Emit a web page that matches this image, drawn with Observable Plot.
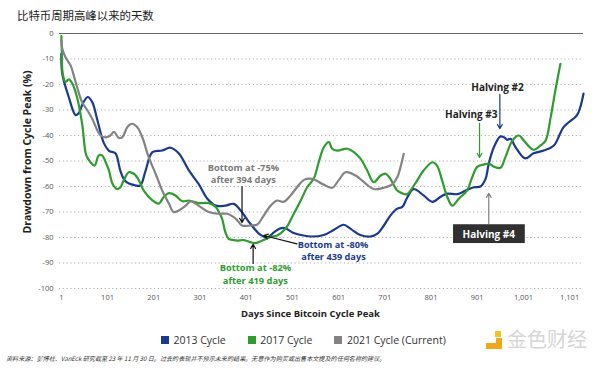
<!DOCTYPE html>
<html><head><meta charset="utf-8">
<script src="https://cdn.jsdelivr.net/npm/d3@7"></script>
<script src="https://cdn.jsdelivr.net/npm/@observablehq/plot@0.6"></script>
<style>
body{margin:0;background:#fff;}
#wrap{position:relative;width:600px;height:372px;overflow:hidden;font-family:"Open Sans",sans-serif;}
#title{position:absolute;left:17px;top:6px;font-family:"Noto Sans CJK SC",sans-serif;font-size:11.4px;line-height:18px;color:#222;white-space:nowrap;}
#chart{position:absolute;left:0;top:24px;}
#legend{position:absolute;left:161px;top:331.5px;display:flex;align-items:center;font-size:10.5px;line-height:16px;color:#333;white-space:nowrap;}
.item{display:flex;align-items:center;margin-right:22px;}
.sw{width:8px;height:8px;margin-right:4.5px;}
#caption{position:absolute;left:6px;top:354px;font-family:"Noto Sans CJK SC",sans-serif;font-style:italic;font-size:6.1px;line-height:9px;color:#333;white-space:nowrap;}
#wm{position:absolute;left:486px;top:329px;width:110px;height:24px;}
#wm .a{position:absolute;left:9px;top:2px;width:6px;height:6px;background:#f6c21c;}
#wm .b{position:absolute;left:10px;top:9px;width:6px;height:11px;background:#f0a81a;}
#wm .c{position:absolute;left:0px;top:14px;width:16px;height:6px;background:#f0a81a;}
#wm .t{position:absolute;left:21px;top:-2px;font-family:"Noto Sans CJK SC",sans-serif;font-size:20px;line-height:24px;color:#d6d6d6;}
</style></head>
<body>
<div id="wrap">
  <div id="title">比特币周期高峰以来的天数</div>
  <div id="chart"></div>
  <div id="legend"></div>
  <div id="caption">资料来源：彭博社、VanEck 研究截至 23 年 11 月 30 日。过去的表现并不预示未来的结果。无意作为购买或出售本文提及的任何名称的建议。</div>
  <div id="wm"><div class="a"></div><div class="b"></div><div class="c"></div><div class="t">金色财经</div></div>
</div>
<script>
const seriesNames = ["2013 Cycle", "2017 Cycle", "2021 Cycle (Current)"];
const seriesColors = ["#1b3a8c", "#2e9c2e", "#838383"];

const xTicks = [1, 101, 201, 301, 401, 501, 601, 701, 801, 901, 1001, 1101];
const yTicks = [0, -10, -20, -30, -40, -50, -60, -70, -80, -90, -100];
const gridValues = [-10, -20, -30, -40, -50, -60, -70, -80, -90, -100];

const days2013 = [1,3,17,32,39,46,58,68,79,93,104,118,129,140,162,172,183,198,219,237,255,277,298,317,335,356,374,389,410,432,447,461,475,486,501,519,540,569,591,612,627,648,670,685,699,713,728,739,749,763,785,804,822,836,858,876,894,908,919,926,937,951,959,966,973,984,1005,1023,1045,1067,1088,1117,1124,1131];
const values2013 = [-8,-15.8,-24.9,-32,-31.2,-28,-24.9,-27,-34,-43,-46,-47,-54,-58,-59.6,-59.6,-54,-46.5,-45.9,-44.8,-47,-53.7,-59,-64.8,-67.5,-67.5,-66.8,-69.4,-74.6,-79,-79.9,-78,-76.4,-76.4,-78,-79,-79.6,-79,-77,-75,-76.6,-79,-79.6,-78.5,-75.3,-71.4,-68.7,-68,-64.5,-61,-63.5,-66,-64,-62.8,-63,-61.6,-60.3,-60,-57,-51,-44.6,-40.4,-40.7,-41.7,-41.3,-44.6,-49,-47,-45.9,-43.9,-36.7,-32,-28.9,-23.6];

const days2017 = [1,2,4,10,17,25,35,46,55,64,73,82,89,97,104,112,122,129,136,147,158,169,179,198,212,223,234,248,263,277,298,320,335,342,349,356,363,374,382,396,410,421,436,454,468,486,504,519,533,547,558,569,580,587,598,620,634,648,663,677,692,703,713,728,739,749,767,785,804,814,825,836,847,861,879,890,901,915,926,937,951,962,977,991,1002,1023,1038,1049,1060,1070,1081];
const values2017 = [-1,-6.7,-15.8,-19,-18,-19.7,-25,-35.4,-47.8,-50.5,-51.8,-47.8,-47.8,-50.5,-53.7,-59,-61,-60.3,-57.6,-54.4,-55,-57.6,-61.5,-65.4,-66.7,-64,-62.6,-63.5,-65.8,-65.5,-66.5,-66.5,-68,-70,-72.7,-78,-80.5,-81,-81.2,-81,-81.8,-82.2,-81.2,-79.8,-79.2,-76.6,-70.7,-65.5,-60.3,-57,-50.5,-44.6,-42.6,-45.2,-45.9,-45.2,-46.5,-49,-53.7,-58.3,-55.7,-55,-57,-61.6,-62.7,-63,-58.8,-53.7,-50.5,-51.8,-57.6,-64,-67.5,-64.8,-61.6,-56.4,-52.3,-51.4,-51,-52.2,-52.7,-48.5,-42,-40,-42,-45.6,-43.9,-42,-32.8,-22.4,-11.9];

const days2021 = [1,3,10,21,28,35,46,57,68,79,86,97,107,115,125,133,144,154,165,176,190,205,219,234,244,255,270,281,298,320,342,360,374,382,392,410,425,439,454,468,482,497,511,526,544,566,587,601,616,638,656,677,699,717,728,735,742];
const values2021 = [-2.7,-6,-9.3,-12.5,-16.5,-21,-27,-30,-33.5,-38,-40,-40.7,-40,-38.6,-40.9,-40.6,-36.7,-35.4,-36.7,-40.6,-48.5,-55,-61.5,-66.8,-70,-69.4,-67.5,-65.8,-67.5,-70,-70.7,-70.7,-72,-73.3,-75.3,-75.3,-74.9,-71.4,-67.5,-65.5,-66,-63.5,-60.3,-57.4,-57,-59,-60.5,-57.6,-54.4,-55.7,-58.3,-61,-60.5,-59.2,-56.4,-52.4,-47.2];

const xTitle = "Days Since Bitcoin Cycle Peak";
const yTitle = "Drawdown from Cycle Peak (%)";

const labelTexts = ["Bottom at -75%", "after 394 days", "Bottom at -80%", "after 439 days", "Bottom at -82%", "after 419 days", "Halving #2", "Halving #3", "Halving #4"];
const labelDays = [395, 395, 589, 590, 421, 421, 945, 888, 926];
const labelValues = [-52.8, -57.5, -82.8, -87.6, -92.1, -96.9, -21.2, -32, -78.8];
const labelColors = ["#7a7a7a", "#7a7a7a", "#1b3a8c", "#1b3a8c", "#2e9c2e", "#2e9c2e", "#222", "#222", "#ffffff"];
const labelSizes = [9.3, 9.3, 9.2, 9.2, 9.3, 9.3, 10, 10, 10];

const arrowDay1 = [392, 511, 416, 950, 906, 926];
const arrowVal1 = [-60, -82.5, -90.2, -23.9, -35.2, -74.5];
const arrowDay2 = [392, 439, 416, 950, 906, 926];
const arrowVal2 = [-74.1, -79.2, -82.7, -37.3, -48.6, -62.7];
const arrowColors = ["#111", "#111", "#111", "#1b3a8c", "#2e9c2e", "#808080"];

const data = [
  ...days2013.map((d, i) => ({series: seriesNames[0], day: d, value: values2013[i]})),
  ...days2017.map((d, i) => ({series: seriesNames[1], day: d, value: values2017[i]})),
  ...days2021.map((d, i) => ({series: seriesNames[2], day: d, value: values2021[i]}))
];

const labelMarks = labelTexts.map((t, i) => Plot.text([{t, day: labelDays[i], value: labelValues[i]}], {
  x: "day", y: "value", text: "t", fill: labelColors[i], fontWeight: "bold", fontSize: labelSizes[i], fontFamily: "Open Sans"
}));
const arrowMarks = arrowDay1.map((d, i) => Plot.arrow([{x1: d, y1: arrowVal1[i], x2: arrowDay2[i], y2: arrowVal2[i]}], {
  x1: "x1", y1: "y1", x2: "x2", y2: "y2", stroke: arrowColors[i], strokeWidth: 1.2, headLength: 6
}));

const plot = Plot.plot({
  width: 600, height: 300,
  marginTop: 9, marginBottom: 36, marginLeft: 59, marginRight: 17,
  x: {domain: [-3, 1131]},
  y: {domain: [-100, 0]},
  color: {domain: seriesNames, range: seriesColors},
  style: {fontFamily: "Open Sans", background: "transparent", overflow: "visible"},
  marks: [
    Plot.ruleY(gridValues, {stroke: "#b0b0b0", strokeDasharray: "1.2,2.6", strokeWidth: 1}),
    Plot.ruleY([0], {stroke: "#666", strokeWidth: 1}),
    Plot.axisX({ticks: xTicks, tickFormat: d3.format(","), tickSize: 0, tickPadding: 6, fontSize: 7.5, fill: "#555", label: null}),
    Plot.axisY({ticks: yTicks, tickFormat: d => String(d), tickSize: 0, tickPadding: 6, fontSize: 7.5, fill: "#555", label: null}),
    Plot.line(data, {x: "day", y: "value", z: "series", stroke: "series", strokeWidth: 2.2, curve: "catmull-rom"}),
    ...arrowMarks,
    ...labelMarks,
    Plot.text([xTitle], {text: d => d, frameAnchor: "bottom", dy: 28, dx: -11, fontWeight: "bold", fontSize: 9.5, fill: "#222"}),
    Plot.text([yTitle], {text: d => d, frameAnchor: "left", textAnchor: "middle", dx: -31.5, dy: -9, rotate: -90, fontWeight: "bold", fontSize: 10.5, fill: "#222"})
  ]
});
document.getElementById("chart").append(plot);

const t4 = [...plot.querySelectorAll("text")].find(e => e.textContent === "Halving #4");
if (t4) {
  const b = t4.getBBox();
  const r = document.createElementNS("http://www.w3.org/2000/svg", "rect");
  r.setAttribute("x", b.x - 9.5);
  r.setAttribute("y", b.y - 2.4);
  r.setAttribute("width", b.width + 19);
  r.setAttribute("height", b.height + 4.8);
  r.setAttribute("fill", "#303030");
  if (t4.getAttribute("transform")) r.setAttribute("transform", t4.getAttribute("transform"));
  t4.parentNode.insertBefore(r, t4);
}

const lg = document.getElementById("legend");
seriesNames.forEach((n, i) => {
  const it = document.createElement("div");
  it.className = "item";
  const sw = document.createElement("div");
  sw.className = "sw";
  sw.style.background = seriesColors[i];
  const tx = document.createElement("span");
  tx.textContent = n;
  it.append(sw, tx);
  lg.append(it);
});
</script>
</body></html>
